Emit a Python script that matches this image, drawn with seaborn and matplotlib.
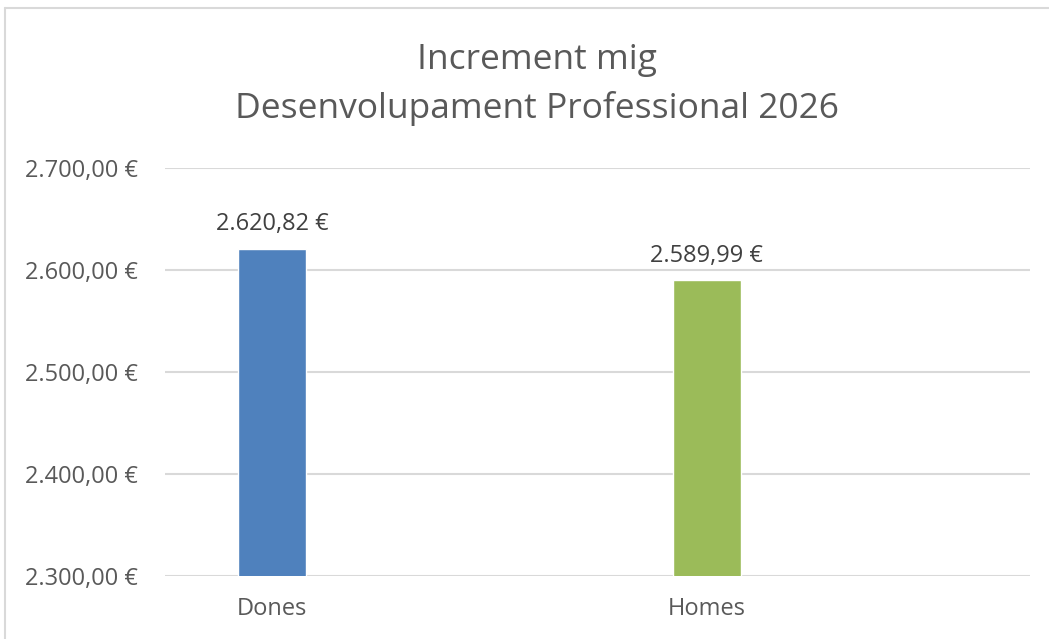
import matplotlib
matplotlib.use("Agg")
import matplotlib.pyplot as plt
import seaborn as sns
import pandas as pd
from matplotlib.lines import Line2D
from matplotlib.ticker import FuncFormatter

categories = ["Dones", "Homes"]
values = [2620.82, 2589.99]
colors = ["#4F81BD", "#9BBB59"]
title_lines = ["Increment mig", "Desenvolupament Professional 2026"]
yticks = [2300, 2400, 2500, 2600, 2700]

def eur(v, decimals=2):
    s = f"{v:,.{decimals}f}"
    s = s.replace(",", "X").replace(".", ",").replace("X", ".")
    return s + " €"

sns.set_style("white")
plt.rcParams["font.family"] = ["Open Sans", "DejaVu Sans"]

df = pd.DataFrame({"cat": categories, "val": values})

fig = plt.figure(figsize=(10.49, 6.39), dpi=100)
ax = fig.add_axes([165/1049, 1-576/639, (1030-165)/1049, (576-168)/639])

sns.barplot(data=df, x="cat", y="val", hue="cat", palette=colors, ax=ax,
            width=0.156, legend=False, saturation=1)

ax.set_ylim(2300, 2700)
ax.set_xlim(-0.246, 1.743)
ax.set_yticks(yticks)
ax.yaxis.set_major_formatter(FuncFormatter(lambda v, p: eur(v)))
ax.grid(axis="y", color="#D9D9D9", linewidth=1.5)
ax.set_axisbelow(True)
for s in ax.spines.values():
    s.set_visible(False)
ax.tick_params(axis="both", length=0, labelsize=17, labelcolor="#595959")
ax.tick_params(axis="y", pad=19.5)
ax.tick_params(axis="x", pad=15)
ax.set_xlabel("")
ax.set_ylabel("")

for i, v in enumerate(values):
    ax.annotate(eur(v), (i, v), xytext=(0, 9), textcoords="offset points",
                ha="center", va="bottom", fontsize=17, color="#404040")

fig.text(537/1049, 1-60/639, title_lines[0], ha="center", va="center",
         fontsize=25.5, color="#595959")
fig.text(537/1049, 1-108/639, title_lines[1], ha="center", va="center",
         fontsize=25.5, color="#595959")

# chart border (partially visible)
fig.add_artist(Line2D([5/1049, 5/1049], [0, 1-8/639], transform=fig.transFigure,
                      color="#D9D9D9", linewidth=1.5))
fig.add_artist(Line2D([5/1049, 1], [1-8/639, 1-8/639], transform=fig.transFigure,
                      color="#D9D9D9", linewidth=1.5))

fig.savefig("out.png", dpi=100)
